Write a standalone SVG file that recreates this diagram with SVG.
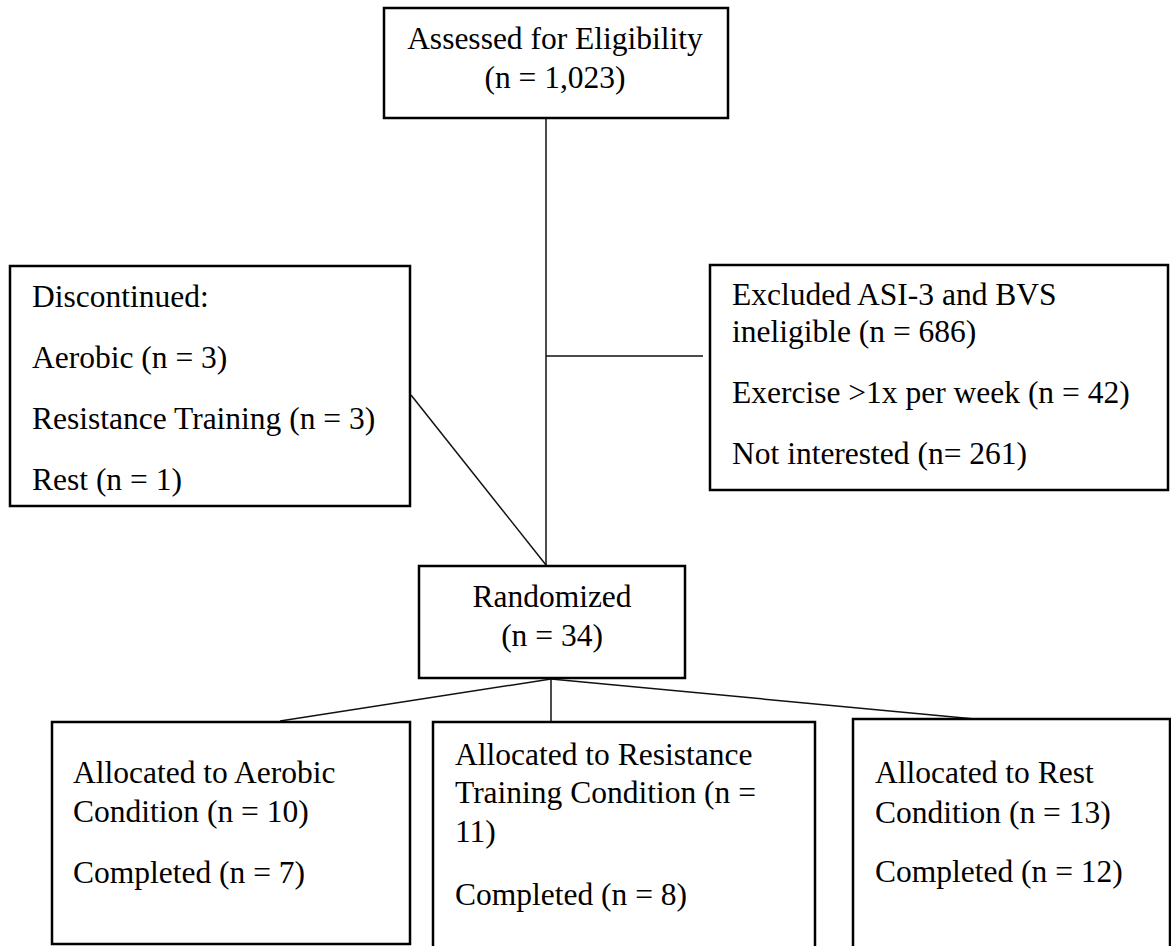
<svg xmlns="http://www.w3.org/2000/svg" width="1171" height="946" viewBox="0 0 1171 946">
<style>
.box{fill:#fff;stroke:#000;stroke-width:2.5}
.ln{fill:none;stroke:#111;stroke-width:1.5}
text{font-family:"Liberation Serif","Times New Roman",serif;font-size:31.5px;fill:#000}
.c{text-anchor:middle}
</style>
<rect width="1171" height="946" fill="#fff"/>
<g id="connectors">
<line class="ln" x1="546" y1="119" x2="546" y2="566"/>
<line class="ln" x1="546" y1="356" x2="703" y2="356"/>
<line class="ln" x1="411" y1="395" x2="546" y2="565"/>
<line class="ln" x1="551" y1="679" x2="280" y2="721"/>
<line class="ln" x1="551" y1="679" x2="551" y2="727"/>
<line class="ln" x1="551" y1="679" x2="975" y2="719"/>
</g>
<g id="assessed">
<rect class="box" x="384" y="8" width="344" height="110"/>
<text class="c" x="555" y="49">Assessed for Eligibility</text>
<text class="c" x="555" y="88">(n = 1,023)</text>
</g>
<g id="discontinued">
<rect class="box" x="10" y="266" width="400" height="240"/>
<text x="32" y="307">Discontinued:</text>
<text x="32" y="368">Aerobic (n = 3)</text>
<text x="32" y="429">Resistance Training (n = 3)</text>
<text x="32" y="490">Rest (n = 1)</text>
</g>
<g id="excluded">
<rect class="box" x="710" y="265" width="458" height="225"/>
<text x="732" y="305">Excluded ASI-3 and BVS</text>
<text x="732" y="342">ineligible (n = 686)</text>
<text x="732" y="403">Exercise &gt;1x per week (n = 42)</text>
<text x="732" y="464">Not interested (n= 261)</text>
</g>
<g id="randomized">
<rect class="box" x="419" y="566" width="266" height="112"/>
<text class="c" x="552" y="607">Randomized</text>
<text class="c" x="552" y="646">(n = 34)</text>
</g>
<g id="aerobic">
<rect class="box" x="52" y="722" width="358" height="222"/>
<text x="73" y="783">Allocated to Aerobic</text>
<text x="73" y="822">Condition (n = 10)</text>
<text x="73" y="883">Completed (n = 7)</text>
</g>
<g id="resistance">
<rect class="box" x="433" y="722" width="382" height="230"/>
<text x="455" y="765">Allocated to Resistance</text>
<text x="455" y="803">Training Condition (n =</text>
<text x="455" y="842">11)</text>
<text x="455" y="905">Completed (n = 8)</text>
</g>
<g id="rest">
<rect class="box" x="853" y="719" width="317" height="233"/>
<text x="875" y="783">Allocated to Rest</text>
<text x="875" y="823">Condition (n = 13)</text>
<text x="875" y="882">Completed (n = 12)</text>
</g>
</svg>
